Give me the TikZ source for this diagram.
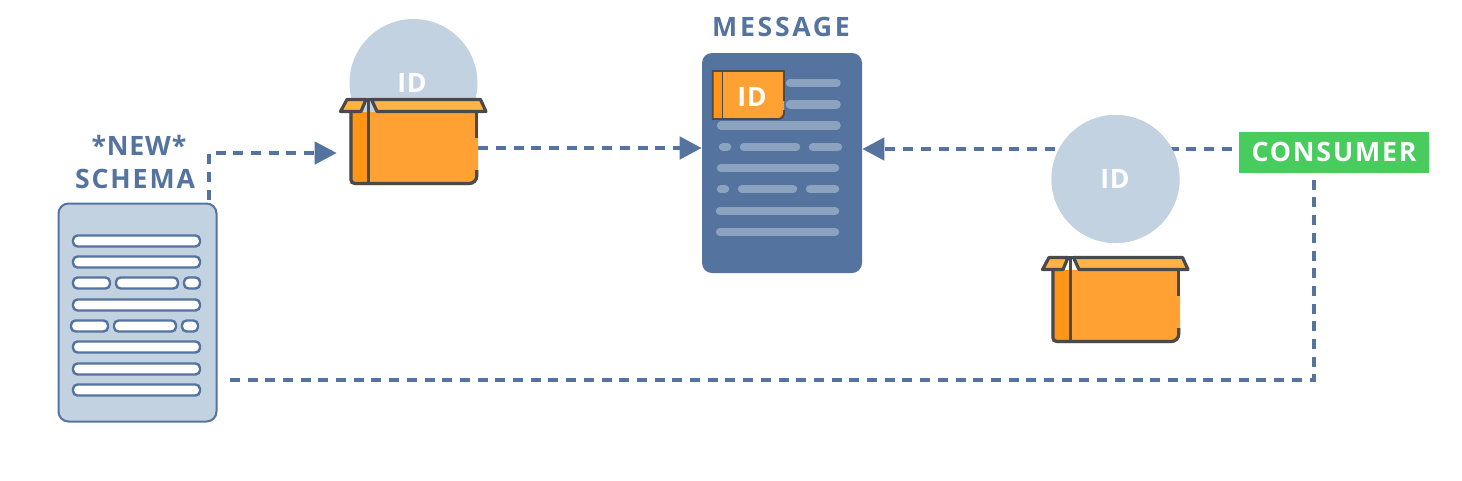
\documentclass[tikz,border=0pt]{standalone}
\usepackage{fontspec}
\usetikzlibrary{arrows.meta,calc}
\setmainfont[LetterSpace=2]{Open Sans}
\newfontfamily\lblfont[LetterSpace=7]{Open Sans}
\newfontfamily\widefont[LetterSpace=10]{Open Sans}
\newfontfamily\tightfont[LetterSpace=3]{Open Sans}
\definecolor{steel}{HTML}{54739E}
\definecolor{pale}{HTML}{C3D2E1}
\definecolor{barc}{HTML}{8BA3BF}
\definecolor{orangea}{HTML}{FFA233}
\definecolor{orangeb}{HTML}{FF9517}
\definecolor{orangec}{HTML}{FFB347}
\definecolor{edgec}{HTML}{4A4A4A}
\definecolor{greenc}{HTML}{48CC5E}
\def\px{0.75pt}
\tikzset{
  dashlink/.style={draw=steel,line width=4.4*\px,dash pattern=on 10*\px off 7.7*\px},
  tipped/.style={-{Triangle[length=22*\px,width=22*\px,fill=steel]}},
  disc/.style={circle,fill=pale,minimum size=128*\px,inner sep=0pt},
  idtext/.style={text=white,font=\bfseries\fontsize{20}{24}\selectfont,inner sep=0pt},
  headtext/.style={text=steel,font=\lblfont\bfseries\fontsize{20}{25}\selectfont,inner sep=0pt},
  pill/.style={draw=steel,fill=white,line width=2.4*\px,rounded corners=4.5*\px},
  bar/.style={barc,line width=8.5*\px,line cap=round},
  edgeline/.style={edgec,line width=3.2*\px,line join=round},
  docbox/.style={rectangle,rounded corners=10*\px,inner sep=0pt},
}
\newcommand\carton[2]{%
\begin{scope}[shift={(#1,#2)}]
  \fill[orangea] (351,112) -- (478,112) -- (478,176) to[out=-90,in=0] (470,185) -- (355,185) to[out=180,in=-90] (349.5,180) -- (349.5,112) -- cycle;
  \fill[orangeb] (349.5,112) rectangle (368.5,184);
  \draw[edgeline] (476.8,112) -- (476.8,138);
  \draw[edgeline] (476.8,170) -- (476.8,176) to[out=-90,in=0] (469,183.5) -- (355,183.5) to[out=180,in=-90] (351,180) -- (351,112);
  \draw[edgeline,fill=orangec] (340.5,111.5) -- (347,99.5) -- (366,99.5) -- (361,111.5) -- cycle;
  \draw[edgeline,fill=orangec] (371.5,99.5) -- (377,111.5) -- (486,111.5) -- (480.5,99.5) -- cycle;
  \draw[edgeline] (366,99.5) -- (371.5,99.5);
  \draw[edgeline] (368.5,99.5) -- (368.5,183);
\end{scope}}
\newcommand\pillbar[3]{\draw[pill] (#1,#3-5.5) rectangle (#2,#3+5.5);}
\begin{document}
\begin{tikzpicture}[x=0.75pt,y=-0.75pt]
\useasboundingbox (0,0) rectangle (1462,480);
\node[disc] (idone) at (413.5,83) {};
\node[disc] (idtwo) at (1115.5,179) {};
\node[idtext] (idonetext) at (412,82.5) {ID};
\node[inner sep=0pt,minimum width=141*\px,minimum height=86*\px] (cartonone) at (407.5,141) {};
\node[inner sep=0pt,minimum width=141*\px,minimum height=86*\px] (cartontwo) at (1109.5,299) {};
\node[docbox,fill=steel,minimum width=160*\px,minimum height=220*\px] (msg) at (782,163) {};
\node[docbox,draw=steel,fill=pale,line width=2*\px,minimum width=158*\px,minimum height=218*\px] (schema) at (137.5,312.5) {};
\node[rectangle,fill=greenc,minimum width=190*\px,minimum height=41*\px,inner sep=0pt,text=white,font=\lblfont\bfseries\fontsize{20}{25}\selectfont] (consumer) at (1334,152) {CONSUMER};
\coordinate (elbowa) at (209,153);
\coordinate (rowb) at (0,148);
\coordinate (rowc) at (0,149);
\coordinate (elbowd) at (1314,380);
\draw[dashlink,tipped,shorten <=3*\px] (elbowa |- schema.north) -- (elbowa) -- (cartonone.west |- elbowa);
\draw[dashlink,tipped] (cartonone.east |- rowb) -- (msg.west |- rowb);
\draw[dashlink,tipped,shorten <=7*\px] (consumer.west |- rowc) -- (msg.east |- rowc);
\draw[dashlink,shorten <=7*\px,shorten >=11*\px] (elbowd |- consumer.south) -- (elbowd) -- (schema.east |- elbowd);
\node[disc] (idtwotop) at (idtwo) {};
\node[idtext] (idtwotext) at (1115,178.5) {ID};
\carton{0}{0}
\carton{702}{158}
\draw[bar] (790,83) -- (836.5,83);
\draw[bar] (790,104.5) -- (836.5,104.5);
\draw[bar] (721,125.5) -- (836.5,125.5);
\draw[bar] (723,147) -- (727,147);
\draw[bar] (744,147) -- (796,147);
\draw[bar] (813,147) -- (838,147);
\draw[bar] (721,168) -- (835,168);
\draw[bar] (721,189) -- (725,189);
\draw[bar] (742,189) -- (793,189);
\draw[bar] (810,189) -- (835,189);
\draw[bar] (720,211) -- (835,211);
\draw[bar] (720,232) -- (835,232);
\fill[orangea] (712,71) rectangle (784,101) (712,101) -- (784,101) -- (784,113) -- (778,119.5) -- (712,119.5) -- cycle;
\fill[orangeb] (712,71) rectangle (722.5,119.5);
\draw[edgec,line width=1.7*\px] (784,101) -- (784,71) -- (712.7,71) -- (712.7,119) -- (779,119) to[out=0,in=-90] (784,114) -- (784,110);
\draw[edgec,line width=1.7*\px] (722.5,71) -- (722.5,119);
\node[idtext] (idmsg) at (752,96.5) {ID};
\pillbar{73}{200}{241}
\pillbar{73}{200}{262}
\pillbar{73}{110}{283}
\pillbar{116}{178}{283}
\pillbar{184}{200}{283}
\pillbar{73}{200}{305}
\pillbar{71}{108}{326}
\pillbar{114}{176}{326}
\pillbar{182}{198}{326}
\pillbar{73}{200}{347}
\pillbar{73}{200}{369}
\pillbar{73}{200}{390}
\node[headtext,font=\widefont\bfseries\fontsize{20}{25}\selectfont] (msgtitle) at (781,27) {MESSAGE};
\node[headtext,font=\tightfont\bfseries\fontsize{20}{25}\selectfont] (newtitle) at (139,145) {*NEW*};
\node[headtext] (schematitle) at (135,178.5) {SCHEMA};
\end{tikzpicture}
\end{document}
